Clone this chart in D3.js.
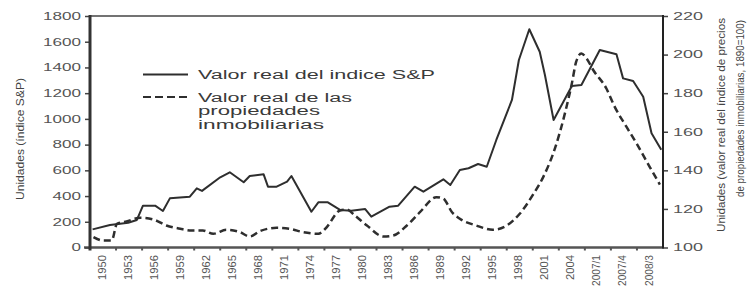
<!DOCTYPE html>
<html>
<head>
<meta charset="utf-8">
<script src="https://cdn.jsdelivr.net/npm/d3@7"></script>
<style>
  html, body { margin: 0; padding: 0; background: #fff; }
  svg { display: block; font-family: "Liberation Sans", Arial, sans-serif; }
</style>
</head>
<body>
<svg id="chart" width="753" height="291"></svg>
<script>
// category labels along the bottom (each band = 3 years, last three = 3 quarters)
const xLabels = ["1950", "1953", "1956", "1959", "1962", "1965", "1968", "1971",
  "1974", "1977", "1980", "1983", "1986", "1989", "1992", "1995", "1998",
  "2001", "2004", "2007/1", "2007/4", "2008/3"];
const leftTicks = [0, 200, 400, 600, 800, 1000, 1200, 1400, 1600, 1800];
const rightTicks = [100, 120, 140, 160, 180, 200, 220];

// real S&P index (left axis)
const spYears = [1950.3, 1952.3, 1954.4, 1955.4, 1956.1, 1957.5, 1958.4, 1959.2,
  1961.5, 1962.3, 1962.9, 1965.0, 1966.1, 1967.7, 1968.4, 1970.0, 1970.5,
  1971.5, 1972.7, 1973.2, 1975.5, 1976.3, 1977.4, 1978.8, 1980.1, 1981.7,
  1982.4, 1984.5, 1985.5, 1987.4, 1988.4, 1990.7, 1991.5, 1992.6, 1993.6,
  1994.7, 1995.7, 1996.8, 1998.6, 1999.4, 2000.6, 2001.8, 2002.4, 2003.4,
  2005.5, 2006.6, 2007.43, 2007.91, 2008.10, 2008.39, 2008.68, 2008.92, 2009.2];
const spValues = [141, 175, 193, 214, 325, 325, 284, 382,
  395, 460, 440, 546, 585, 507, 556, 569, 473,
  473, 512, 556, 278, 351, 351, 292, 286, 299,
  240, 317, 325, 473, 434, 530, 486, 603, 616,
  649, 628, 836, 1147, 1458, 1697, 1522, 1341, 991,
  1256, 1263, 1536, 1502, 1315, 1294, 1172, 888, 760];

// real home price index, 1890 = 100 (right axis)
const houseYears = [1950.4, 1951.5, 1952.5, 1953.1, 1954.2, 1955.8, 1957.3, 1958.8,
  1960.4, 1961.7, 1963.0, 1964.2, 1965.7, 1967.3, 1968.4, 1969.6, 1971.5,
  1973.0, 1974.6, 1976.3, 1977.1, 1978.8, 1979.6, 1980.5, 1981.9, 1983.8,
  1984.9, 1986.5, 1988.0, 1989.9, 1990.7, 1991.7, 1992.6, 1994.5, 1996.4,
  1998.0, 1999.5, 2001.1, 2002.2, 2003.6, 2004.7, 2005.5, 2006.0, 2006.6,
  2007.05, 2007.24, 2007.62, 2007.86, 2008.20, 2008.49, 2008.87, 2009.16];
const houseValues = [105.4, 103.6, 103.6, 112.3, 113.5, 115.4, 114.5, 111.4,
  109.7, 108.8, 108.8, 107.1, 109.2, 107.9, 105.7, 108.5, 110.2,
  109.7, 107.9, 107.1, 109.7, 119.2, 119.7, 116.6, 111.4, 105.7,
  106.2, 111.4, 118.3, 126.1, 125.3, 118.3, 114.9, 111.4, 109.2,
  111.4, 117.5, 127.9, 136.5, 152.0, 169.5, 185.0, 196.3, 200.6,
  198.0, 192.0, 182.4, 172.9, 162.5, 153.9, 141.7, 132.6];

const legendLabels = [
  ["Valor real del indice S&P"],
  ["Valor real de las", "propiedades", "inmobiliarias"]
];
const leftTitle = "Unidades (índice S&P)";
const rightTitle = ["Unidades (valor real del índice de precios",
  "de propiedades inmobiliarias, 1890=100)"];

const svg = d3.select("#chart");
const plot = { left: 90, right: 663, top: 16, bottom: 247.5 };
const ink = "#2e2e2e";

const band = d3.scaleBand()
  .domain(xLabels)
  .range([plot.left, plot.right]);
const w = band.bandwidth();

// years -> px; last bands hold 0.75 year each
const x = d3.scaleLinear()
  .domain([1950, 2007, 2009.25])
  .range([plot.left, band("2007/1"), plot.right]);
const yL = d3.scaleLinear().domain([0, 1800]).range([plot.bottom, plot.top]);
const yR = d3.scaleLinear().domain([100, 220]).range([plot.bottom, plot.top]);

// top border
svg.append("line")
  .attr("x1", plot.left).attr("x2", plot.right)
  .attr("y1", plot.top).attr("y2", plot.top)
  .attr("stroke", "#444").attr("stroke-width", 1.5);

// bottom axis line + small ticks at band edges
svg.append("line")
  .attr("x1", plot.left - 6).attr("x2", plot.right)
  .attr("y1", plot.bottom).attr("y2", plot.bottom)
  .attr("stroke", "#555").attr("stroke-width", 2.5);
svg.append("g")
  .selectAll("line")
  .data(xLabels.slice(1))
  .join("line")
  .attr("x1", d => band(d)).attr("x2", d => band(d))
  .attr("y1", plot.bottom).attr("y2", plot.bottom + 3)
  .attr("stroke", "#555").attr("stroke-width", 2);

svg.append("g")
  .selectAll("text")
  .data(xLabels)
  .join("text")
  .attr("transform", d => `translate(${band(d) + w / 2 - 1.5},255) rotate(-90)`)
  .attr("text-anchor", "end")
  .attr("dy", "0.35em")
  .attr("font-size", 11.5)
  .attr("textLength", d => (d.length > 4 ? 31 : 25))
  .attr("lengthAdjust", "spacingAndGlyphs")
  .attr("fill", "#555")
  .text(d => d);

// left axis
const gL = svg.append("g")
  .attr("transform", `translate(${plot.left},0)`)
  .call(d3.axisLeft(yL).tickValues(leftTicks).tickFormat(d3.format("d"))
    .tickSize(5).tickPadding(4));
gL.select(".domain").remove();
gL.selectAll(".tick line").attr("stroke", "#444").attr("stroke-width", 1.5);
gL.selectAll(".tick text")
  .attr("font-size", 10.5)
  .attr("fill", "#555")
  .attr("textLength", d => String(d).length * 9.5)
  .attr("lengthAdjust", "spacingAndGlyphs");
svg.append("line")
  .attr("x1", plot.left).attr("x2", plot.left)
  .attr("y1", plot.top - 1).attr("y2", plot.bottom + 3)
  .attr("stroke", "#333").attr("stroke-width", 3);

// right axis
const gR = svg.append("g")
  .attr("transform", `translate(${plot.right},0)`)
  .call(d3.axisRight(yR).tickValues(rightTicks).tickSize(5).tickPadding(5));
gR.select(".domain").remove();
gR.selectAll(".tick line").attr("stroke", "#444").attr("stroke-width", 1.5);
gR.selectAll(".tick text")
  .attr("font-size", 10.5)
  .attr("fill", "#555")
  .attr("textLength", d => String(d).length * 10)
  .attr("lengthAdjust", "spacingAndGlyphs");
svg.append("line")
  .attr("x1", plot.right).attr("x2", plot.right)
  .attr("y1", plot.top - 1).attr("y2", plot.bottom + 1)
  .attr("stroke", "#222").attr("stroke-width", 2);

// axis titles
svg.append("text")
  .attr("transform", "translate(20,139) rotate(-90)")
  .attr("text-anchor", "middle")
  .attr("dy", "0.35em")
  .attr("font-size", 11)
  .attr("textLength", 122)
  .attr("lengthAdjust", "spacingAndGlyphs")
  .attr("fill", "#444")
  .text(leftTitle);

svg.append("g")
  .selectAll("text")
  .data(rightTitle)
  .join("text")
  .attr("transform", (d, i) => `translate(${721 + i * 19},${i ? 108.5 : 125}) rotate(-90)`)
  .attr("text-anchor", "middle")
  .attr("dy", "0.35em")
  .attr("font-size", 10.5)
  .attr("textLength", (d, i) => (i ? 177 : 214))
  .attr("lengthAdjust", "spacingAndGlyphs")
  .attr("fill", "#444")
  .text(d => d);

// series
const spLine = d3.line()
  .x(d => x(d[0]))
  .y(d => yL(d[1]));
const houseLine = d3.line()
  .x(d => x(d[0]))
  .y(d => yR(d[1]))
  .curve(d3.curveMonotoneX);

svg.append("path")
  .datum(d3.zip(houseYears, houseValues))
  .attr("d", houseLine)
  .attr("fill", "none")
  .attr("stroke", ink)
  .attr("stroke-width", 2.5)
  .attr("stroke-dasharray", "7,4");

svg.append("path")
  .datum(d3.zip(spYears, spValues))
  .attr("d", spLine)
  .attr("fill", "none")
  .attr("stroke", ink)
  .attr("stroke-width", 2)
  .attr("stroke-linejoin", "round");

// legend
const legend = svg.append("g");
const legendRows = [
  { y: 74.5, dash: null, base: 78.5, lens: [237] },
  { y: 97, dash: "8,4", base: 101.5, lens: [154, 122, 126] }
];
legendRows.forEach((r, i) => {
  legend.append("line")
    .attr("x1", 143).attr("x2", 188)
    .attr("y1", r.y).attr("y2", r.y)
    .attr("stroke", ink)
    .attr("stroke-width", 2)
    .attr("stroke-dasharray", r.dash);
  legend.selectAll(null)
    .data(legendLabels[i])
    .join("text")
    .attr("x", 198)
    .attr("y", (d, j) => r.base + j * 13.5)
    .attr("font-size", 12.5)
    .attr("textLength", (d, j) => r.lens[j])
    .attr("lengthAdjust", "spacingAndGlyphs")
    .attr("fill", "#3a3a3a")
    .text(d => d);
});
</script>
</body>
</html>
